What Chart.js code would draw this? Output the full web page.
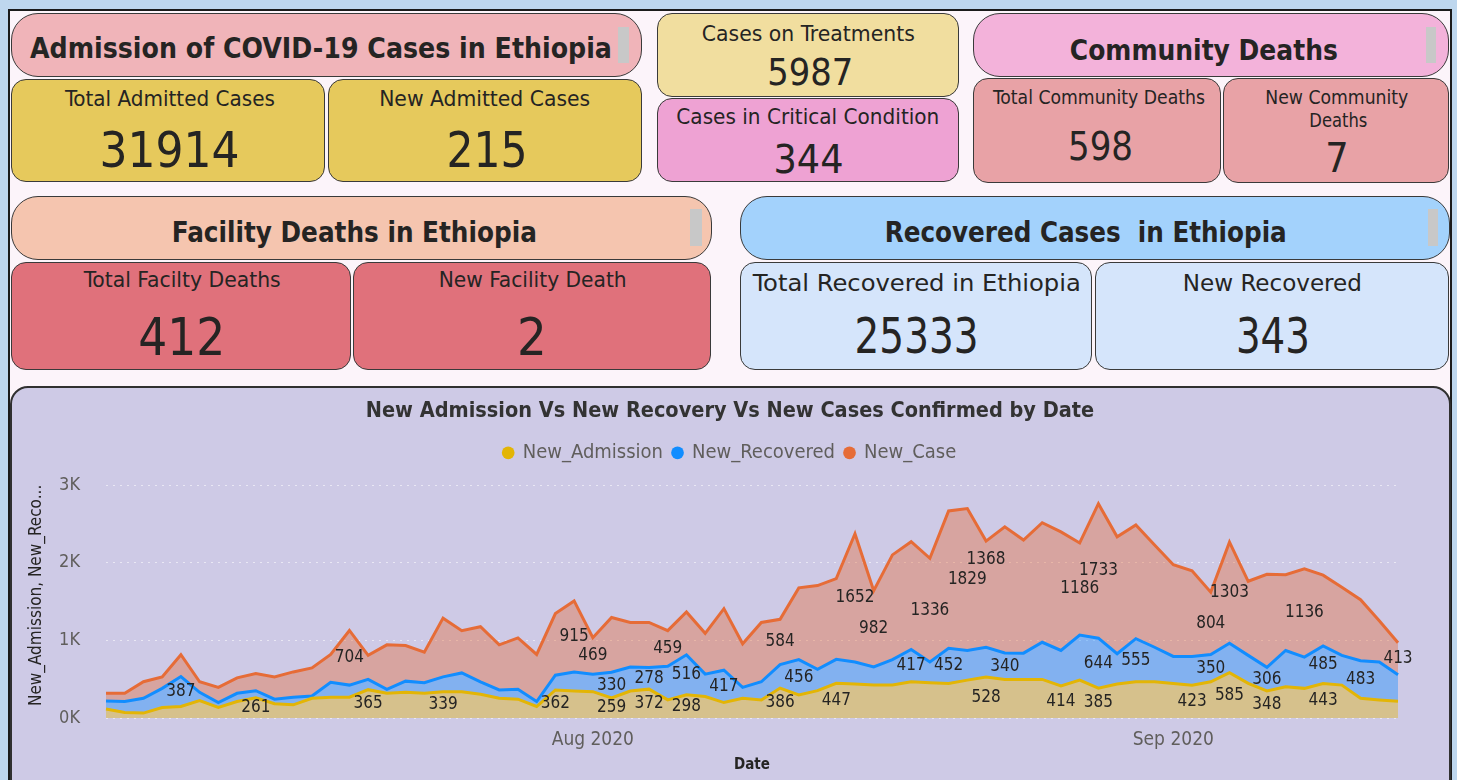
<!DOCTYPE html>
<html><head><meta charset="utf-8">
<script src="https://cdn.jsdelivr.net/npm/chart.js@4.4.1/dist/chart.umd.min.js"></script>
<style>
html,body{margin:0;padding:0;}
body{width:1457px;height:780px;overflow:hidden;background:#bed7ee;position:relative;}
#frame{position:absolute;left:8px;top:9px;width:1444px;height:800px;background:#fcf4fa;border:2px solid #1b1b1b;box-sizing:border-box;}
.box{position:absolute;box-sizing:border-box;border:1.5px solid #3a3a3a;}
.thumb{position:absolute;background:#c8c8c8;}
.t{position:absolute;white-space:pre;color:#252423;transform-origin:50% 50%;}
#panel{position:absolute;left:10px;top:386px;width:1441px;height:420px;background:#cecae6;border:2px solid #303030;border-radius:18px;box-sizing:border-box;}
#chartWrap{position:absolute;left:10px;top:386px;width:1440px;height:394px;}
</style></head><body>
<div id="frame"></div>
<div id="panel"></div>
<div id="chartWrap"><canvas id="c" width="1440" height="394"></canvas></div>
<script>
// ---------- data ----------
const sectionTitles = ["Admission of COVID-19 Cases in Ethiopia", "Community Deaths", "Facility Deaths in Ethiopia", "Recovered Cases  in Ethiopia"];
const kpiTitles = ["Total Admitted Cases", "New Admitted Cases", "Cases on Treatments", "Cases in Critical Condition", "Total Community Deaths", "New Community\nDeaths", "Total Facilty Deaths", "New Facility Death", "Total Recovered in Ethiopia", "New Recovered"];
const kpiValues = [31914, 215, 5987, 344, 598, 7, 412, 2, 25333, 343];

const chartTitle = "New Admission Vs New Recovery Vs New Cases Confirmed by Date";
const seriesNames = ["New_Admission", "New_Recovered", "New_Case"];
const dates = [
 "2020-07-06","2020-07-07","2020-07-08","2020-07-09","2020-07-10","2020-07-11","2020-07-12","2020-07-13","2020-07-14","2020-07-15",
 "2020-07-16","2020-07-17","2020-07-18","2020-07-19","2020-07-20","2020-07-21","2020-07-22","2020-07-23","2020-07-24","2020-07-25",
 "2020-07-26","2020-07-27","2020-07-28","2020-07-29","2020-07-30","2020-07-31","2020-08-01","2020-08-02","2020-08-03","2020-08-04",
 "2020-08-05","2020-08-06","2020-08-07","2020-08-08","2020-08-09","2020-08-10","2020-08-11","2020-08-12","2020-08-13","2020-08-14",
 "2020-08-15","2020-08-16","2020-08-17","2020-08-18","2020-08-19","2020-08-20","2020-08-21","2020-08-22","2020-08-23","2020-08-24",
 "2020-08-25","2020-08-26","2020-08-27","2020-08-28","2020-08-29","2020-08-30","2020-08-31","2020-09-01","2020-09-02","2020-09-03",
 "2020-09-04","2020-09-05","2020-09-06","2020-09-07","2020-09-08","2020-09-09","2020-09-10","2020-09-11","2020-09-12","2020-09-13"];
const newAdmission = [115,72,63,135,148,224,135,212,261,183, 170,255,268,268,365,318,331,318,339,339,
 306,255,242,148,362,348,339,259,348,372, 233,298,276,199,255,233,386,297,352,447,
 437,424,424,467,454,446,488,528,497,497, 497,414,488,385,437,467,467,446,423,467,
 585,446,348,403,382,443,424,255,233,215];
const newRecovered = [105,140,192,247,387,107,64,106,91,59, 98,29,191,156,132,51,144,136,191,242,
 161,106,127,64,190,246,226,330,310,278, 434,516,289,417,140,234,302,456,276,309,
 285,234,328,417,268,452,382,384,340,339, 479,456,582,644,391,555,445,348,371,350,
 378,361,306,467,403,485,383,483,489,343];
const newCase = [98,106,212,148,280,136,196,199,221,288, 326,361,360,704,310,574,459,395,757,544,
 709,582,663,607,794,915,469,706,573,581, 459,552,526,793,561,764,584,924,1079,1040,
 1652,982,1350,1388,1336,1771,1829,1368,1627,1457, 1541,1529,1186,1733,1507,1465,1318,1181,1104,804,
 1303,955,1197,977,1136,913,879,786,531,413];
// indices of points that carry a data label
const admLabelIdx = [8,14,18,24,27,29,31,36,39,47,51,53,58,60,62,65];
const recLabelIdx = [4,27,29,31,33,37,43,45,48,53,55,59,62,65,67];
const caseLabelIdx = [13,25,26,30,36,40,41,44,46,47,52,53,59,60,64,69];
const xTickDates = ["2020-08-01", "2020-09-01"];
const xTickLabels = ["Aug 2020", "Sep 2020"];
const yTickValues = [0, 1000, 2000, 3000];

// ---------- cards ----------
const COND = '"DejaVu Sans Condensed","DejaVu Sans",sans-serif';
function box(x,y,w,h,bg,r){const d=document.createElement('div');d.className='box';
 Object.assign(d.style,{left:x+'px',top:y+'px',width:w+'px',height:h+'px',background:bg,borderRadius:r+'px'});document.body.appendChild(d);}
function thumb(x,y,w,h){const d=document.createElement('div');d.className='thumb';
 Object.assign(d.style,{left:x+'px',top:y+'px',width:w+'px',height:h+'px'});document.body.appendChild(d);}
function text(s,cx,cy,size,weight,fitW){const d=document.createElement('div');d.className='t';d.textContent=s;
 d.style.font=weight+' '+size+'px '+COND;d.style.lineHeight=size+'px';document.body.appendChild(d);
 const w=d.getBoundingClientRect().width;d.style.left=(cx-w/2)+'px';d.style.top=(cy-size/2)+'px';
 if(fitW) d.style.transform='scaleX('+(fitW/w)+')';}

const headers = [
 {b:[11,13,631,64,'#f0b4b9'], t:[321,48,582], th:[618,27,11,36]},
 {b:[973,13,476,64,'#f3b2da'], t:[1204,50,268], th:[1426,27,10,36]},
 {b:[11,196,701,64,'#f5c5af'], t:[354,232.5,365], th:[690,209,12,37]},
 {b:[740,196,710,64,'#a3d2fc'], t:[1086,232.5,402], th:[1428,209,10,37]}];
headers.forEach((h,i)=>{box(...h.b,27);thumb(...h.th);text(sectionTitles[i],h.t[0],h.t[1],29,'bold',h.t[2]);});

const cards = [
 {b:[11,79,314,103,'#e6c95c'], l:[170,99,20.5,210], v:[170,150,50,140]},
 {b:[328,79,314,103,'#e6c95c'], l:[485,99,20.5,211], v:[487,150,50,81]},
 {b:[657,13,302,84,'#f1de9f'], l:[808,34,20.5,213], v:[810,72,37,86]},
 {b:[657,98,302,84,'#eea2d3'], l:[808,117.5,20.5,263], v:[808,159,39,70]},
 {b:[973,78,248,105,'#e8a2a6'], l:[1099,97,19,212], v:[1100,146,39,65]},
 {b:[1223,78,226,105,'#e8a2a6'], l:[1337,97,19,143,1338,120,58], v:[1337,158,41,0]},
 {b:[11,262,340,108,'#e0717b'], l:[182,280,20.5,197], v:[182,337,52,87]},
 {b:[353,262,358,108,'#e0717b'], l:[533,280,20.5,188], v:[532,337,52,0]},
 {b:[740,262,352,108,'#d5e5fb'], l:[917,283,23,328], v:[917,336,50,124]},
 {b:[1095,262,354,108,'#d5e5fb'], l:[1272,283,23,179], v:[1273,336,50,74]}];
cards.forEach((c,i)=>{
 box(...c.b,15);
 const lines=kpiTitles[i].split('\n');
 text(lines[0],c.l[0],c.l[1],c.l[2],'normal',c.l[3]);
 if(lines[1]) text(lines[1],c.l[4],c.l[5],c.l[2],'normal',c.l[6]);
 text(String(kpiValues[i]),c.v[0],c.v[1],c.v[2],'normal',c.v[3]||0);
});

// ---------- chart ----------
const lineColors = ['#e3b505','#118dff','#e66c37'];
function rgba(hex,a){const n=parseInt(hex.slice(1),16);return `rgba(${n>>16},${(n>>8)&255},${n&255},${a})`;}
const seriesData = [newAdmission, newRecovered, newCase];
const labelIdx = [admLabelIdx, recLabelIdx, caseLabelIdx];

const labelPlugin = {
 id:'valueLabels',
 afterDatasetsDraw(chart){
  const ctx=chart.ctx; const base=chart.scales.y.getPixelForValue(0);
  ctx.save(); ctx.font='17px '+COND; ctx.fillStyle='#252423'; ctx.textAlign='center'; ctx.textBaseline='middle';
  const placed=[];
  chart.data.datasets.forEach((ds,d)=>{
   const meta=chart.getDatasetMeta(d); const below=d>0?chart.getDatasetMeta(d-1):null;
   labelIdx[d].forEach(i=>{
    const p=meta.data[i]; const yLow=below?below.data[i].y:base;
    const s=String(ds.data[i]); const w=ctx.measureText(s).width, h=16;
    let x=p.x, y=(p.y+yLow)/2;
    for(const b of placed){ if(Math.abs(b.x-x)<(b.w+w)/2 && Math.abs(b.y-y)<(b.h+h)/2){ y=b.y-(b.h+h)/2-4; } }
    placed.push({x,y,w,h}); ctx.fillText(s,x,y);
   });
  });
  ctx.restore();
 }
};

new Chart(document.getElementById('c'),{
 type:'line',
 data:{labels:dates, datasets:seriesNames.map((n,i)=>({
  label:n, data:seriesData[i], borderColor:lineColors[i], backgroundColor:rgba(lineColors[i],0.4),
  fill:i===0?'origin':'-1', borderWidth:3, pointRadius:0, tension:0}))},
 options:{
  responsive:false, animation:false, devicePixelRatio:1,
  layout:{padding:{left:0,right:0,top:2,bottom:0}},
  plugins:{
   title:{display:true,text:chartTitle,color:'#333333',font:{family:COND,size:21.5,weight:'bold'},padding:{top:11,bottom:8}},
   legend:{display:true,position:'top',labels:{usePointStyle:true,pointStyle:'circle',boxWidth:9,boxHeight:9,padding:10,color:'#605e5c',
     font:{family:COND,size:20},
     generateLabels:(chart)=>chart.data.datasets.map((ds,i)=>({text:ds.label,fillStyle:ds.borderColor,strokeStyle:ds.borderColor,lineWidth:0,pointStyle:'circle',hidden:false,datasetIndex:i,fontColor:'#605e5c'}))}},
   tooltip:{enabled:false}
  },
  scales:{
   x:{type:'category',grid:{display:false},border:{display:false},
      ticks:{autoSkip:false,maxRotation:0,minRotation:0,padding:3,color:'#605e5c',font:{family:COND,size:19},
        callback:(v,i)=>{const k=xTickDates.indexOf(dates[i]);return k>=0?xTickLabels[k]:null;}},
      title:{display:true,text:'Date',color:'#252423',font:{family:COND,size:15,weight:'bold'},padding:{top:0,bottom:6}},
      afterFit:(s)=>{s.height=62;}},
   y:{stacked:true,min:0,max:3160,
      afterBuildTicks:(s)=>{s.ticks=yTickValues.map(v=>({value:v}));},
      grid:{color:'rgba(255,255,255,0.55)',lineWidth:1,drawTicks:false},
      border:{display:false,dash:[2,5]},
      ticks:{padding:26,color:'#605e5c',font:{family:COND,size:18},callback:(v)=>(v/1000)+'K'},
      title:{display:true,text:'New_Admission, New_Reco...',color:'#252423',font:{family:COND,size:17},padding:{top:16,bottom:0}},
      afterFit:(s)=>{s.width=96;}},
   yRight:{position:'right',display:true,grid:{display:false,drawTicks:false},border:{display:false},
      ticks:{display:false},afterFit:(s)=>{s.width=52;}}
  }
 },
 plugins:[labelPlugin]
});
</script>
</body></html>
